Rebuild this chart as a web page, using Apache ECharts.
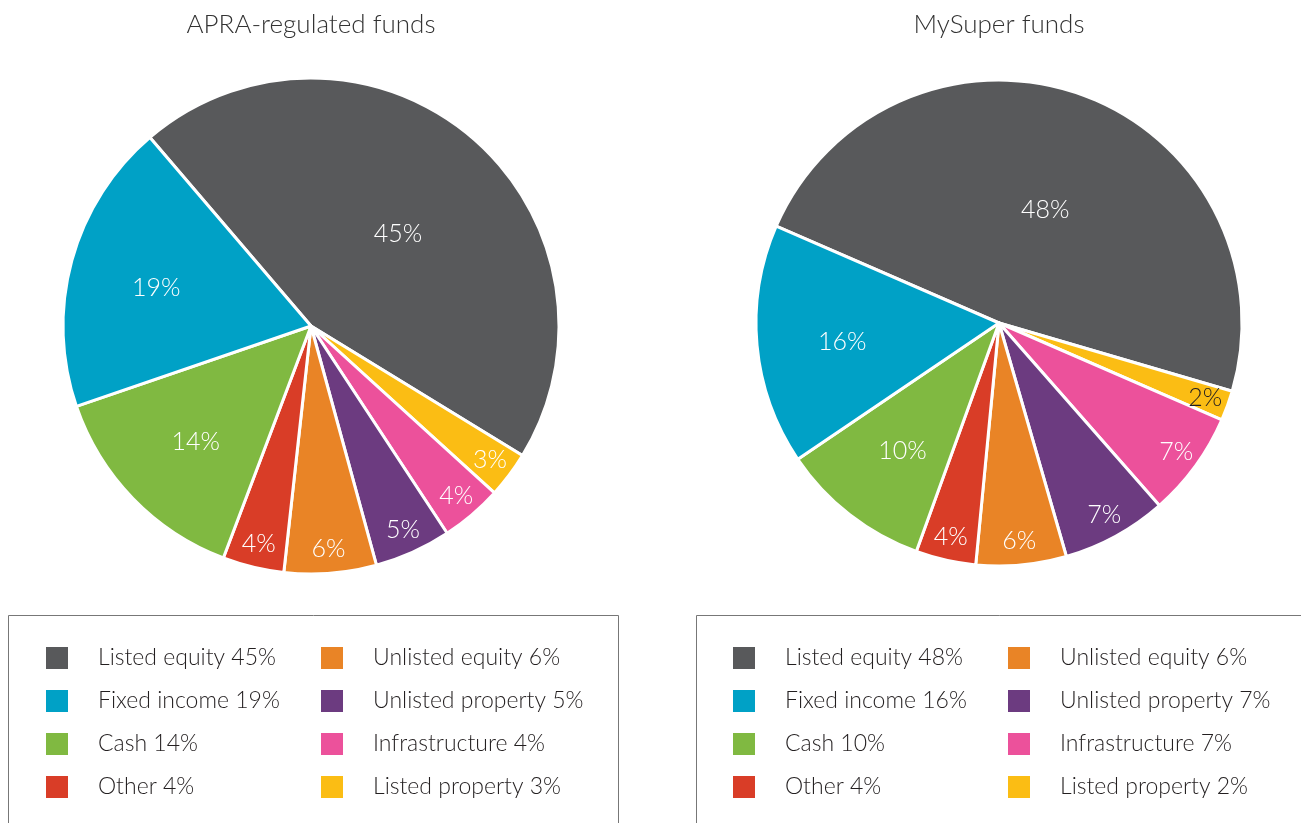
<!DOCTYPE html>
<html>
<head>
<meta charset="utf-8">
<script src="https://cdn.jsdelivr.net/npm/echarts@6/dist/echarts.min.js"></script>
<style>
  html, body { margin: 0; padding: 0; background: #fff; }
  #chart { width: 1301px; height: 823px; }
</style>
</head>
<body>
<div id="chart"></div>
<script>
// categories in clockwise order, starting from listed equity
const categories = ['Listed equity', 'Listed property', 'Infrastructure', 'Unlisted property',
  'Unlisted equity', 'Other', 'Cash', 'Fixed income']
const apraValues = [45, 3, 4, 5, 6, 4, 14, 19]
const mySuperValues = [48, 2, 7, 7, 6, 4, 10, 16]
const titles = ['APRA-regulated funds', 'MySuper funds']
// legend columns
const legendCol1 = ['Listed equity', 'Fixed income', 'Cash', 'Other']
const legendCol2 = ['Unlisted equity', 'Unlisted property', 'Infrastructure', 'Listed property']

const colors = {
  'Listed equity': '#58595b',
  'Listed property': '#fbbd14',
  'Infrastructure': '#ec519b',
  'Unlisted property': '#6c3b80',
  'Unlisted equity': '#e98426',
  'Other': '#d93d27',
  'Cash': '#80b941',
  'Fixed income': '#00a1c6'
}
const FONT = 'Lato'
const textDark = '#231f20'

const pies = [
  { values: apraValues, center: [311, 326], r: 248, start: 130.5, legendX: [44, 319] },
  { values: mySuperValues, center: [999, 323], r: 243, start: 156.5, legendX: [731, 1006] }
]

// which label ring a slice's label sits on: biggest slice, medium, small
function ringOf (v, values) {
  const max = Math.max.apply(null, values)
  if (v === max) return 0
  if (v >= 10) return 1
  return 2
}
const ringFrac = [0.51, 0.635, 0.89]
const ringOffset = [[3, 6], [0, 4], [0, 0]]

const series = []
pies.forEach((p, pi) => {
  series.push({
    type: 'pie',
    name: titles[pi],
    center: p.center,
    radius: [0, p.r],
    startAngle: p.start,
    clockwise: true,
    silent: true,
    label: { show: false },
    labelLine: { show: false },
    itemStyle: { borderColor: '#fff', borderWidth: 3 },
    data: categories.map((c, i) => ({ name: c, value: p.values[i], itemStyle: { color: colors[c] } }))
  })
  // label-only rings
  ringFrac.forEach((f, ri) => {
    const mid = p.r * f
    series.push({
      type: 'pie',
      center: p.center,
      radius: [mid - 10, mid + 10],
      startAngle: p.start,
      clockwise: true,
      silent: true,
      labelLine: { show: false },
      itemStyle: { color: 'rgba(0,0,0,0)' },
      label: {
        position: 'inside',
        formatter: '{c}%',
        fontFamily: FONT,
        fontWeight: 300,
        fontSize: 25,
        color: '#fff',
        offset: ringOffset[ri]
      },
      data: categories.map((c, i) => ({
        name: c,
        value: p.values[i],
        label: {
          show: ringOf(p.values[i], p.values) === ri,
          color: p.values[i] <= 2 ? textDark : '#fff'
        }
      }))
    })
  })
})

const legends = []
pies.forEach((p, pi) => {
  [legendCol1, legendCol2].forEach((col, ci) => {
    legends.push({
      orient: 'vertical',
      left: p.legendX[ci],
      top: 645,
      padding: 0,
      itemWidth: 24,
      itemHeight: 24,
      itemGap: 17,
      icon: 'rect',
      selectedMode: false,
      data: col,
      formatter: name => name + ' ' + p.values[categories.indexOf(name)] + '%',
      textStyle: {
        fontFamily: FONT,
        fontWeight: 300,
        fontSize: 23,
        color: textDark,
        padding: [0, 0, 0, 24]
      }
    })
  })
})

const chart = echarts.init(document.getElementById('chart'))
chart.setOption({
  animation: false,
  title: pies.map((p, pi) => ({
    text: titles[pi],
    left: p.center[0],
    top: 12,
    padding: 0,
    textAlign: 'center',
    textStyle: { fontFamily: FONT, fontSize: 26, fontWeight: 300, color: '#333' }
  })),
  legend: legends,
  graphic: [
    { type: 'rect', shape: { x: 8.5, y: 615.5, width: 610, height: 300 }, style: { fill: 'none', stroke: '#777', lineWidth: 1 } },
    { type: 'rect', shape: { x: 696.5, y: 615.5, width: 700, height: 300 }, style: { fill: 'none', stroke: '#777', lineWidth: 1 } }
  ],
  series: series
})
</script>
</body>
</html>
